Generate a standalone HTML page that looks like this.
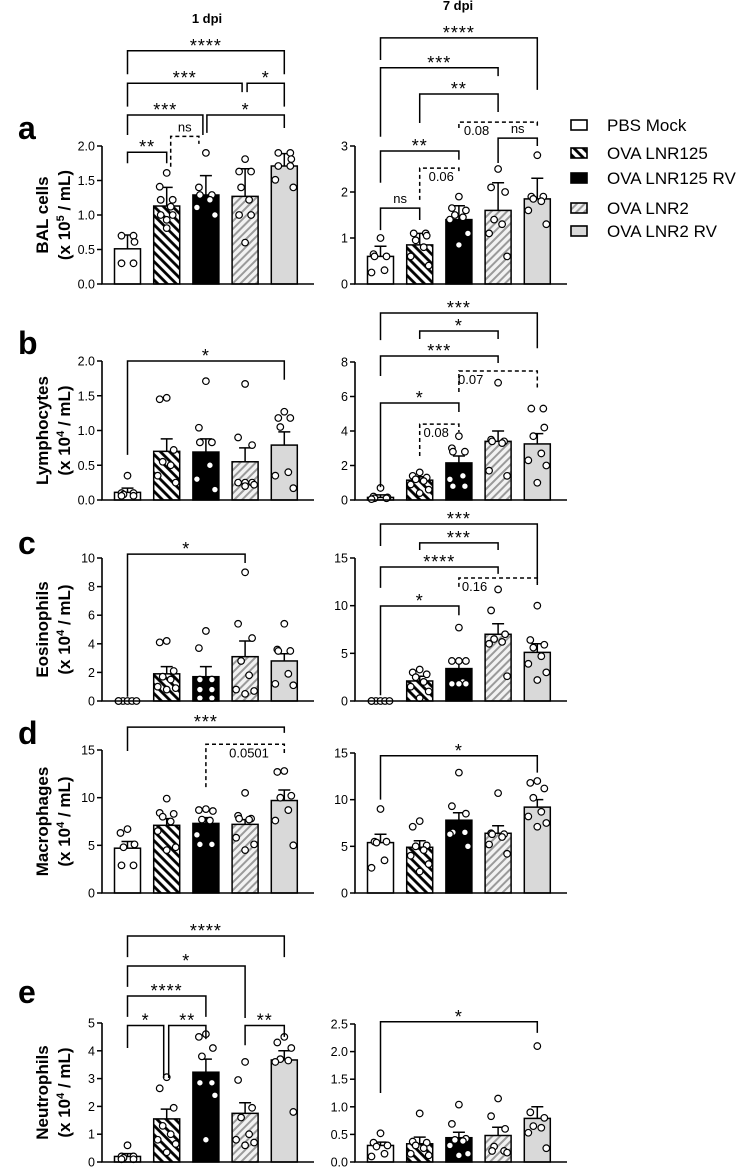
<!DOCTYPE html>
<html><head><meta charset="utf-8">
<style>
html,body{margin:0;padding:0;background:#fff;}
svg{display:block;font-family:"Liberation Sans",Arial,sans-serif;}
</style></head>
<body>
<svg id="fig" width="750" height="1168" viewBox="0 0 750 1168" xmlns="http://www.w3.org/2000/svg">
<defs>
<pattern id="hatchBlack" patternUnits="userSpaceOnUse" width="6.5" height="6.5" patternTransform="rotate(-45)">
<rect width="6.5" height="6.5" fill="#fff"/><line x1="2" y1="0" x2="2" y2="6.5" stroke="#000" stroke-width="2.8"/></pattern>
<pattern id="hatchGrey" patternUnits="userSpaceOnUse" width="5.5" height="5.5" patternTransform="rotate(45)">
<rect width="5.5" height="5.5" fill="#f2f2f2"/><line x1="2" y1="0" x2="2" y2="5.5" stroke="#9a9a9a" stroke-width="2"/></pattern>
</defs>
<text x="207" y="23" font-size="13" font-weight="bold" text-anchor="middle">1 dpi</text>
<text x="458" y="10" font-size="13" font-weight="bold" text-anchor="middle">7 dpi</text>
<g id="legend"></g>
<g id="plots"></g>
</svg>
<script>
const categories = ["PBS Mock","OVA LNR125","OVA LNR125 RV","OVA LNR2","OVA LNR2 RV"];

// Panel a — BAL cells
const balLeftMeans = [0.51,1.13,1.29,1.27,1.71];
const balLeftErr = [0.71,1.40,1.57,1.67,1.89];
const balLeftDots = [[0.7,0.7,0.61,0.3,0.3],[1.61,1.41,1.22,1.22,1.12,1.0,1.0,0.93,0.81],[1.9,1.40,1.29,1.29,1.22,1.11,1.0],[1.81,1.63,1.63,1.40,1.22,1.0,1.0,0.6],[1.9,1.9,1.81,1.71,1.71,1.51,1.40]];
const balLeftTicks = ["0.0","0.5","1.0","1.5","2.0"];
const balLeftBrackets = [[0,4,3.38,3.04,3.04,"****",0],[0,3,2.91,2.57,2.78,"***",0,0,-3],[3,4,2.91,2.78,2.57,"*",0,2,0],[0,2,2.45,2.16,2.16,"***",0,0,-3],[2,4,2.45,2.19,2.26,"*",0,1,0],[0,1,1.91,1.75,1.75,"**",0],[1,2,2.14,1.70,2.03,"ns",1,4,-7]];
const balRightMeans = [0.6,0.85,1.4,1.6,1.85];
const balRightErr = [0.82,1.1,1.7,2.2,2.3];
const balRightDots = [[1.0,0.65,0.6,0.6,0.3,0.25],[1.1,1.1,1.05,0.95,0.8,0.6,0.4],[1.9,1.65,1.6,1.5,1.45,1.4,1.1,0.85],[2.5,2.1,2.0,1.4,1.3,1.1,0.6],[2.8,1.9,1.9,1.85,1.8,1.6,1.3]];
const balRightTicks = ["0","1","2","3"];
const balRightBrackets = [[0,4,5.35,4.87,4.22,"****",0],[0,3,4.70,3.2,4.52,"***",0],[1,3,4.13,3.5,3.74,"**",0],[2,4,3.52,3.39,3.39,"0.08",1,0,0,2.45],[3,4,3.17,2.63,3.0,"ns",0],[0,2,2.89,2.2,2.7,"**",0],[1,2,2.52,1.83,2.41,"0.06",1,0,0,1.55],[0,1,1.65,1.17,1.39,"ns",0]];

// Panel b — Lymphocytes
const lymLeftMeans = [0.11,0.70,0.69,0.55,0.79];
const lymLeftErr = [0.17,0.88,0.88,0.75,0.98];
const lymLeftDots = [[0.35,0.1,0.1,0.08,0.06,0.06],[1.47,1.45,0.72,0.55,0.5,0.35,0.25],[1.71,1.04,0.83,0.83,0.5,0.3,0.15],[1.67,0.9,0.79,0.25,0.25,0.25,0.22,0.2],[1.27,1.18,1.18,1.05,0.4,0.35,0.17]];
const lymLeftTicks = ["0.0","0.5","1.0","1.5","2.0"];
const lymLeftBrackets = [[0,4,2.0,0.65,1.73,"*",0]];
const lymRightMeans = [0.15,1.15,2.15,3.4,3.25];
const lymRightErr = [0.3,1.35,2.55,4.0,3.85];
const lymRightDots = [[0.7,0.2,0.15,0.1,0.1,0.05],[1.6,1.4,1.3,1.2,1.1,0.9,0.6,0.4],[3.7,3.0,2.8,2.8,1.4,1.2,0.8,0.8],[6.8,3.5,3.4,3.4,3.3,1.7,1.4],[5.3,5.3,4.2,3.7,2.7,2.3,2.0,1.0]];
const lymRightTicks = ["0","2","4","6","8"];
const lymRightBrackets = [[0,4,10.84,9.27,8.8,"***",0],[1,3,9.8,9.33,9.33,"*",0],[0,3,8.35,7.19,7.94,"***",0],[2,4,7.48,6.26,6.38,"0.07",1,0,0,2.3],[0,2,5.62,0.75,5.1,"*",0],[1,2,4.4,2.55,3.94,"0.08",1,0,0,1.42]];

// Panel c — Eosinophils
const eosLeftMeans = [0,1.9,1.7,3.1,2.8];
const eosLeftErr = [0,2.4,2.4,4.2,3.3];
const eosLeftDots = [[0,0,0,0,0,0],[4.2,4.1,2.1,1.7,1.5,1.0,0.9,0.8],[4.9,3.7,1.5,1.5,0.8,0.8,0.2,0.2],[9.0,5.4,4.4,2.8,1.8,0.8,0.7,0.5],[5.4,3.6,3.5,3.5,1.9,1.2,1.1]];
const eosLeftTicks = ["0","2","4","6","8","10"];
const eosLeftBrackets = [[0,3,10.27,0.3,9.65,"*",0]];
const eosRightMeans = [0,2.1,3.4,7.0,5.1];
const eosRightErr = [0,2.6,4.2,8.1,6.0];
const eosRightDots = [[0,0,0,0,0,0],[3.3,3.0,2.8,2.5,2.0,1.5,1.0,0.3],[7.7,4.2,4.2,4.2,2.0,1.8,1.8,1.8],[11.7,9.5,7.0,6.5,6.2,6.0,2.6],[10.0,6.4,5.9,5.6,4.7,3.9,3.0,2.2]];
const eosRightTicks = ["0","5","10","15"];
const eosRightBrackets = [[0,4,18.57,16.26,12.38,"***",0],[1,3,16.58,15.84,15.84,"***",0],[0,3,14.06,11.86,13.33,"****",0],[2,4,12.9,11.97,12.17,"0.16",1,0,0,2.4],[0,2,9.97,0.6,9.0,"*",0]];

// Panel d — Macrophages
const macLeftMeans = [4.7,7.1,7.3,7.2,9.7];
const macLeftErr = [5.4,7.8,7.9,7.7,10.8];
const macLeftDots = [[6.7,6.3,5.1,4.8,2.9,2.9],[9.9,8.4,8.3,8.0,7.5,6.5,4.8,4.5],[8.8,8.7,8.6,7.7,7.6,6.1,5.1,5.1],[10.5,8.1,7.8,7.8,7.7,5.8,5.1,4.5],[12.8,12.7,10.2,10.0,8.7,7.6,5.0]];
const macLeftTicks = ["0","5","10","15"];
const macLeftBrackets = [[0,4,17.4,14.9,16.8,"***",0],[2,4,15.6,11.1,14.6,"0.0501",1,0,0,3.1]];
const macRightMeans = [5.4,4.9,7.8,6.4,9.2];
const macRightErr = [6.3,5.6,8.6,7.2,10.0];
const macRightDots = [[9.0,5.5,5.5,5.4,3.5,2.7],[7.7,7.1,5.1,5.0,4.6,4.0,3.1,2.3],[12.9,9.3,8.5,6.5,6.5,6.3,5.0],[10.7,6.4,6.3,6.3,6.0,5.2,4.2],[12.0,11.8,11.2,10.2,8.7,8.2,7.5,7.1]];
const macRightTicks = ["0","5","10","15"];
const macRightBrackets = [[0,4,14.7,10.0,12.9,"*",0]];

// Panel e — Neutrophils
const neuLeftMeans = [0.2,1.55,3.23,1.75,3.67];
const neuLeftErr = [0.3,1.9,3.7,2.13,4.0];
const neuLeftDots = [[0.6,0.2,0.2,0.15,0.1,0.1],[3.05,2.65,1.95,1.3,1.0,0.8,0.65,0.35],[4.6,4.5,4.1,3.8,2.85,2.85,2.4,0.8],[3.6,2.95,1.95,1.6,1.0,0.8,0.7,0.6],[4.5,4.3,4.1,3.7,3.65,3.6,1.8]];
const neuLeftTicks = ["0","1","2","3","4","5"];
const neuLeftBrackets = [[0,4,8.13,7.37,7.37,"****",0],[0,3,7.05,6.3,5.18,"*",0],[0,2,5.97,5.22,5.22,"****",0],[0,1,4.91,4.1,3.02,"*",0,0,-3],[1,2,4.91,3.02,4.42,"**",0,2,0],[3,4,4.91,4.2,4.5,"**",0]];
const neuRightMeans = [0.3,0.33,0.44,0.48,0.79];
const neuRightErr = [0.36,0.45,0.54,0.63,1.0];
const neuRightDots = [[0.52,0.35,0.3,0.28,0.15,0.1],[0.88,0.37,0.35,0.3,0.25,0.15,0.12],[1.04,0.69,0.42,0.4,0.38,0.3,0.15,0.12],[1.15,0.83,0.6,0.28,0.2,0.2,0.17],[2.1,0.9,0.8,0.65,0.62,0.53,0.25]];
const neuRightTicks = ["0.0","0.5","1.0","1.5","2.0","2.5"];
const neuRightBrackets = [[0,4,2.54,1.25,2.34,"*",0]];

const NS = "http://www.w3.org/2000/svg";
function mk(tag, attrs, parent){const e=document.createElementNS(NS,tag);for(const k in attrs)e.setAttribute(k,attrs[k]);parent.appendChild(e);return e;}
const fills = ["#fff","url(#hatchBlack)","#000","url(#hatchGrey)","#d9d9d9"];
const jitter = [[0],[-6,6],[-7,0,7],[-8,-3,3,8],[-9,-4.5,0,4.5,9]];

const panels = [
 {id:"bal-left",x0:102,y0:284,yT:146,max:2,m:balLeftMeans,e:balLeftErr,d:balLeftDots,t:balLeftTicks,b:balLeftBrackets,title:["BAL cells","5"]},
 {id:"bal-right",x0:355,y0:284,yT:146,max:3,m:balRightMeans,e:balRightErr,d:balRightDots,t:balRightTicks,b:balRightBrackets},
 {id:"lym-left",x0:102,y0:500,yT:361,max:2,m:lymLeftMeans,e:lymLeftErr,d:lymLeftDots,t:lymLeftTicks,b:lymLeftBrackets,title:["Lymphocytes","4"],letter:["b",343]},
 {id:"lym-right",x0:355,y0:500,yT:362,max:8,m:lymRightMeans,e:lymRightErr,d:lymRightDots,t:lymRightTicks,b:lymRightBrackets},
 {id:"eos-left",x0:102,y0:701,yT:558,max:10,m:eosLeftMeans,e:eosLeftErr,d:eosLeftDots,t:eosLeftTicks,b:eosLeftBrackets,title:["Eosinophils","4"],letter:["c",543]},
 {id:"eos-right",x0:355,y0:701,yT:558,max:15,m:eosRightMeans,e:eosRightErr,d:eosRightDots,t:eosRightTicks,b:eosRightBrackets},
 {id:"mac-left",x0:102,y0:893,yT:750,max:15,m:macLeftMeans,e:macLeftErr,d:macLeftDots,t:macLeftTicks,b:macLeftBrackets,title:["Macrophages","4"],letter:["d",733]},
 {id:"mac-right",x0:355,y0:893,yT:753,max:15,m:macRightMeans,e:macRightErr,d:macRightDots,t:macRightTicks,b:macRightBrackets},
 {id:"neu-left",x0:102,y0:1162,yT:1023,max:5,m:neuLeftMeans,e:neuLeftErr,d:neuLeftDots,t:neuLeftTicks,b:neuLeftBrackets,title:["Neutrophils","4"],letter:["e",992]},
 {id:"neu-right",x0:355,y0:1162,yT:1024,max:2.5,m:neuRightMeans,e:neuRightErr,d:neuRightDots,t:neuRightTicks,b:neuRightBrackets}
];
panels[0].letter=["a",128];

const root = document.getElementById("plots");
panels.forEach(p=>{
  const g = mk("g",{},root);
  
  
  const y = v => p.y0 - (v/p.max)*(p.y0-p.yT);
  const x = i => p.x0 + 25.5 + i*39.2;
  // bars
  p.m.forEach((v,i)=>{
    const r = mk("rect",{x:x(i)-13,y:y(v),width:26,height:p.y0-y(v),fill:fills[i],stroke:"#000","stroke-width":1.5},g);
    
    
    if(p.e[i]>v){
      const eb = mk("path",{d:`M${x(i)},${y(v)}V${y(p.e[i])}M${x(i)-6},${y(p.e[i])}H${x(i)+6}`,stroke:i==2?"#000":"#000","stroke-width":1.5,fill:"none"},g);
      
      
    }
  });
  // dots
  p.d.forEach((arr,i)=>{
    const counts={};
    arr.forEach(v=>{const k=v.toFixed(2);counts[k]=(counts[k]||0)+1;});
    const seen={};
    arr.forEach((v,j)=>{
      const k=v.toFixed(2);const n=Math.min(counts[k],5);const s=seen[k]||0;seen[k]=s+1;
      let off = jitter[n-1][s%n];
      if(n===1) off = [0,-7,7,-4,4,-9,9,0][j%8];
      const c = mk("circle",{cx:x(i)+off,cy:y(v),r:3.3,fill:"#fff",stroke:"#000","stroke-width":1.2},g);
      
      
    });
  });
  // axes
  const ax = mk("path",{d:`M${p.x0},${p.yT}V${p.y0}H${p.x0+212}`,stroke:"#000","stroke-width":1.6,fill:"none"},g);
  
  
  p.t.forEach((lab,k)=>{
    const v = p.max*k/(p.t.length-1);
    mk("line",{x1:p.x0-5,x2:p.x0,y1:y(v),y2:y(v),stroke:"#000","stroke-width":1.5},g);
    const t = mk("text",{x:p.x0-7,y:y(v)+4.5,"font-size":12.5,"text-anchor":"end"},g);
    t.textContent = lab;
    
    
  });
  // brackets
  p.b.forEach(b=>{
    const [g1,g2,top,le,re,lab,dash,dx1,dx2,lx] = b;
    const x1 = x(g1)+(dx1||0), x2 = x(g2)+(dx2||0);
    const br = mk("path",{d:`M${x1},${y(le)}V${y(top)}H${x2}V${y(re)}`,stroke:"#000","stroke-width":1.5,fill:"none"},g);
    if(dash) br.setAttribute("stroke-dasharray","4,3");
    
    
    const t = mk("text",{"text-anchor":"middle"},g);
    if(lx!==undefined){ t.setAttribute("x",x(lx)); t.setAttribute("y",y(top)+13); t.setAttribute("font-size",13); }
    else if(lab.indexOf("*")>=0){ t.setAttribute("x",(x1+x2)/2); t.setAttribute("y",y(top)+1); t.setAttribute("font-size",18); t.setAttribute("letter-spacing","1"); }
    else { t.setAttribute("x",(x1+x2)/2); t.setAttribute("y",y(top)-5); t.setAttribute("font-size",13); }
    t.textContent = lab;
    
    
  });
  if(p.title){
    const cy=(p.y0+p.yT)/2;
    const t1 = mk("text",{x:0,y:0,"font-size":17,"font-weight":"bold","text-anchor":"middle",transform:`translate(48,${cy}) rotate(-90)`},g);
    t1.textContent = p.title[0];
    
    
    const t2 = mk("text",{x:0,y:0,"font-size":17,"font-weight":"bold","text-anchor":"middle",transform:`translate(70,${cy}) rotate(-90)`},g);
    
    
    const a=document.createElementNS(NS,"tspan");a.textContent="(x 10";t2.appendChild(a);
    const s=document.createElementNS(NS,"tspan");s.setAttribute("font-size","11");s.setAttribute("dy","-6");s.textContent=p.title[1];t2.appendChild(s);
    const c=document.createElementNS(NS,"tspan");c.setAttribute("dy","6");c.textContent=" / mL)";t2.appendChild(c);
  }
  if(p.letter){
    const L = mk("text",{x:18,y:p.letter[1]+11,"font-size":32,"font-weight":"bold"},g);
    L.textContent = p.letter[0];
    
    
  }
});
// legend
const lg = document.getElementById("legend");
const legendY = [125,153,178,208,231];
categories.forEach((c,i)=>{
  const r = mk("rect",{x:571,y:legendY[i]-5,width:16,height:10,fill:fills[i],stroke:"#000","stroke-width":1.6},lg);
  
  
  const t = mk("text",{x:607,y:legendY[i]+6,"font-size":17},lg);
  t.textContent = c;
  
  
});
</script>
</body></html>
